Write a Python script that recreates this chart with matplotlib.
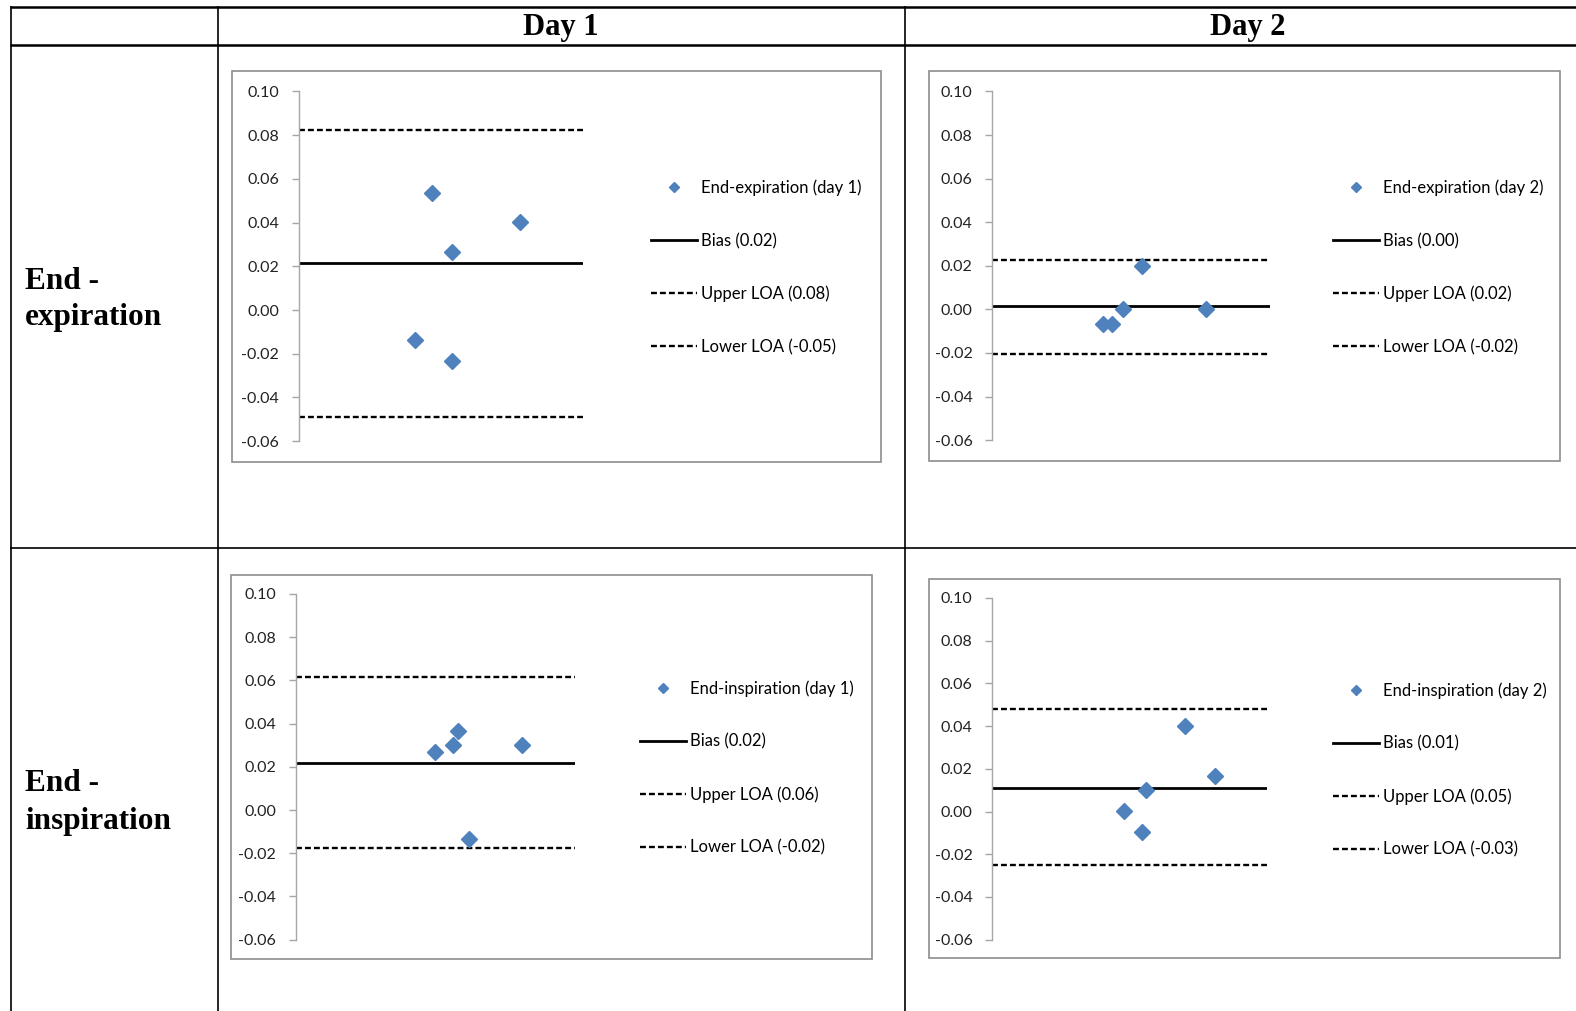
import matplotlib
matplotlib.use('Agg')
import matplotlib.pyplot as plt
from matplotlib.lines import Line2D
from matplotlib.patches import Rectangle

# ---------------- data ----------------
col_labels = ["Day 1", "Day 2"]
row_labels = [("End -", "expiration"), ("End -", "inspiration")]
ytick_vals = [-0.06, -0.04, -0.02, 0.00, 0.02, 0.04, 0.06, 0.08, 0.10]
ytick_labels = ["-0.06", "-0.04", "-0.02", "0.00", "0.02", "0.04", "0.06", "0.08", "0.10"]

# hidden x axis (mean of methods), arbitrary 0-1 scale
exp_d1_x = [0.47, 0.54, 0.78, 0.41, 0.54]
exp_d1_y = [0.0536, 0.0264, 0.0402, -0.0136, -0.0232]
exp_d1_stats = [0.0214, 0.0825, -0.049]       # bias, upper LOA, lower LOA
exp_d1_labels = ["End-expiration (day 1)", "Bias (0.02)", "Upper LOA (0.08)", "Lower LOA (-0.05)"]

exp_d2_x = [0.40, 0.43, 0.47, 0.54, 0.77]
exp_d2_y = [-0.0069, -0.0069, 0.0000, 0.0198, 0.0000]
exp_d2_stats = [0.0014, 0.0226, -0.0203]
exp_d2_labels = ["End-expiration (day 2)", "Bias (0.00)", "Upper LOA (0.02)", "Lower LOA (-0.02)"]

ins_d1_x = [0.50, 0.565, 0.58, 0.81, 0.62]
ins_d1_y = [0.0270, 0.0302, 0.0367, 0.0302, -0.0135]
ins_d1_stats = [0.0219, 0.0614, -0.0177]
ins_d1_labels = ["End-inspiration (day 1)", "Bias (0.02)", "Upper LOA (0.06)", "Lower LOA (-0.02)"]

ins_d2_x = [0.48, 0.56, 0.545, 0.70, 0.81]
ins_d2_y = [0.0002, 0.0101, -0.0096, 0.0402, 0.0167]
ins_d2_stats = [0.0111, 0.0482, -0.0252]
ins_d2_labels = ["End-inspiration (day 2)", "Bias (0.01)", "Upper LOA (0.05)", "Lower LOA (-0.03)"]

# ---------------- layout helpers (measured in a 1568x1006 view) ----------------
DW, DH = 1568.0, 1006.0
def fx(p): return p / DW
def fy(p): return 1 - p / DH

fig = plt.figure(figsize=(15.76, 10.11), dpi=100)
fig.patch.set_facecolor('white')

# table grid
def hline(y, x0, x1, lw=1.6):
    fig.add_artist(Line2D([fx(x0), fx(x1)], [fy(y), fy(y)], color='black', lw=lw,
                          transform=fig.transFigure, solid_capstyle='butt'))
def vline(x, y0, y1, lw=1.2):
    fig.add_artist(Line2D([fx(x), fx(x)], [fy(y0), fy(y1)], color='black', lw=lw,
                          transform=fig.transFigure, solid_capstyle='butt'))

hline(7, 10, 1580, lw=1.8)
hline(45, 10, 1580, lw=1.8)
hline(545, 10, 1580, lw=1.2)
vline(11, 6, 1020)
vline(217, 6, 1020)
vline(900, 6, 1020)

serif = ['Liberation Serif', 'DejaVu Serif']
fig.text(fx(558), fy(27), col_labels[0], ha='center', va='center', fontsize=22,
         fontweight='bold', family=serif)
fig.text(fx(1241), fy(27), col_labels[1], ha='center', va='center', fontsize=22,
         fontweight='bold', family=serif)
for (l1, l2), (y1, y2) in zip(row_labels, [(280, 316), (780, 817)]):
    fig.text(fx(25), fy(y1), l1, ha='left', va='center', fontsize=22.5,
             fontweight='bold', family=serif)
    fig.text(fx(25), fy(y2), l2, ha='left', va='center', fontsize=22.5,
             fontweight='bold', family=serif)

sans = ['Lato', 'DejaVu Sans']
blue = '#4F81BD'

charts = [
    dict(x=exp_d1_x, y=exp_d1_y, st=exp_d1_stats, lab=exp_d1_labels,
         box=(231, 71, 877, 460), ax=(297, 580, 91, 439), leg=(648, 266)),
    dict(x=exp_d2_x, y=exp_d2_y, st=exp_d2_stats, lab=exp_d2_labels,
         box=(924, 71, 1552, 459), ax=(987, 1264, 91, 438), leg=(1326, 266)),
    dict(x=ins_d1_x, y=ins_d1_y, st=ins_d1_stats, lab=ins_d1_labels,
         box=(230, 572, 868, 954), ax=(294, 572, 591, 935), leg=(637, 764)),
    dict(x=ins_d2_x, y=ins_d2_y, st=ins_d2_stats, lab=ins_d2_labels,
         box=(924, 576, 1552, 953), ax=(987, 1261, 595, 935), leg=(1326, 766)),
]

for c in charts:
    bx0, by0, bx1, by1 = c['box']
    fig.add_artist(Rectangle((fx(bx0), fy(by1)), fx(bx1) - fx(bx0), fy(by0) - fy(by1),
                             transform=fig.transFigure, fill=False,
                             edgecolor='#8c8c8c', lw=1.2))
    ax0, ax1, ay0, ay1 = c['ax']
    ax = fig.add_axes([fx(ax0), fy(ay1), fx(ax1) - fx(ax0), fy(ay0) - fy(ay1)])
    ax.patch.set_alpha(0)
    ax.set_xlim(0, 1)
    ax.set_ylim(-0.06, 0.10)
    bias, up, lo = c['st']
    h1, = ax.plot(c['x'], c['y'], linestyle='none', marker='D', markersize=8.5,
                  color=blue, zorder=5)
    h2 = ax.axhline(bias, color='black', lw=2.0)
    h3 = ax.axhline(up, color='black', lw=1.7, dashes=(2.5, 1.3))
    h4 = ax.axhline(lo, color='black', lw=1.7, dashes=(2.5, 1.3))
    for s in ['top', 'right', 'bottom']:
        ax.spines[s].set_visible(False)
    ax.spines['left'].set_color('#a6a6a6')
    ax.spines['left'].set_linewidth(1.0)
    ax.set_xticks([])
    ax.set_yticks(ytick_vals)
    ax.set_yticklabels(ytick_labels, family=sans, fontsize=11.5, color='#222222')
    ax.tick_params(axis='y', direction='out', length=5, width=1.0, color='#a6a6a6', pad=9)
    lx, ly = c['leg']
    leg = ax.legend([h1, h2, h3, h4], c['lab'], loc='center left',
                    bbox_to_anchor=(fx(lx), fy(ly)), bbox_transform=fig.transFigure,
                    frameon=False, prop={'family': sans, 'size': 12},
                    handlelength=2.75, handletextpad=0.25, labelspacing=2.2,
                    borderpad=0, borderaxespad=0, markerscale=0.65)

fig.savefig('out.png', dpi=100, facecolor='white')
